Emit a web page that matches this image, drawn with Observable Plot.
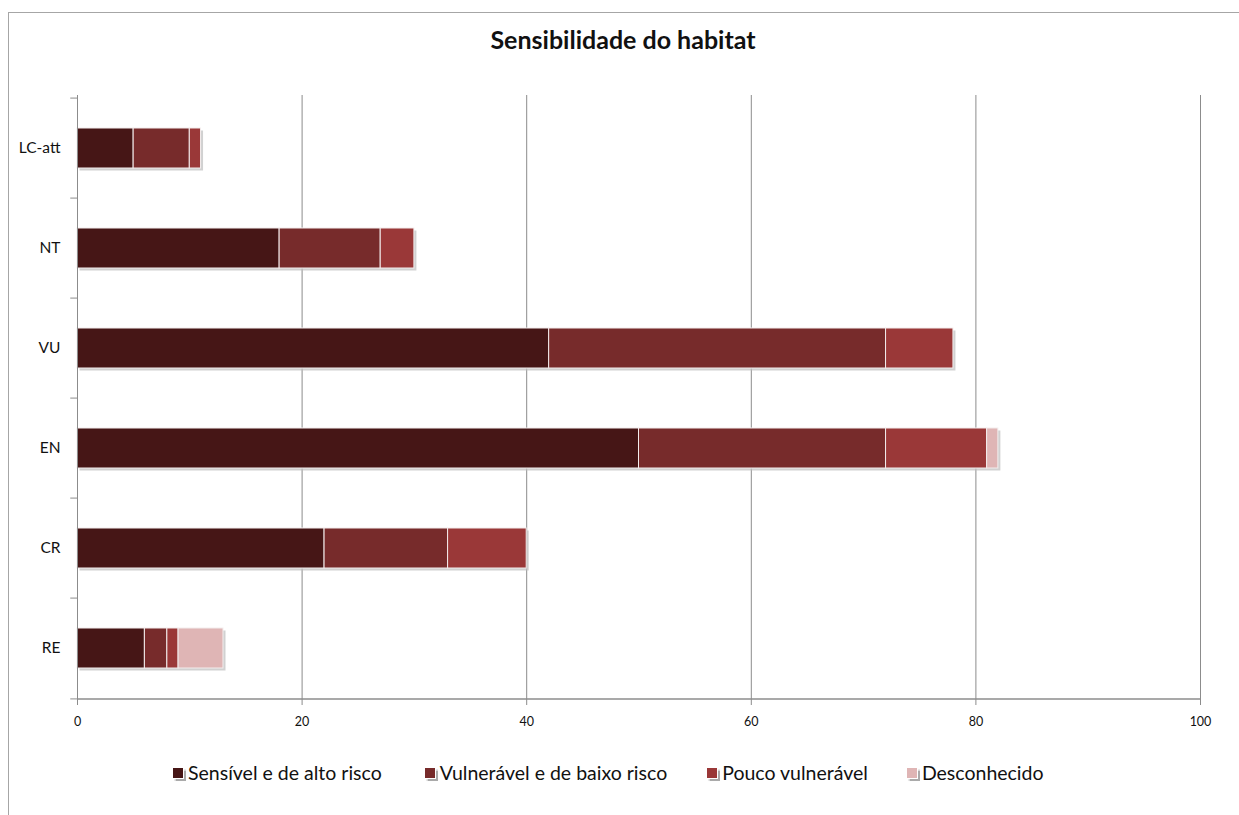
<!DOCTYPE html>
<html>
<head>
<meta charset="utf-8">
<script src="https://cdn.jsdelivr.net/npm/d3@7"></script>
<script src="https://cdn.jsdelivr.net/npm/@observablehq/plot@0.6"></script>
<style>
  html, body { margin: 0; padding: 0; background: #fff; }
  #wrap { position: relative; width: 1239px; height: 815px; overflow: hidden; font-family: Lato, "Open Sans", sans-serif; }
  #frame { position: absolute; left: 8px; top: 12px; width: 1240px; height: 810px; border-left: 1.5px solid #a6a6a6; border-top: 1.5px solid #a6a6a6; }
  #title { position: absolute; top: 24px; left: 0; width: 1246px; text-align: center; font-weight: bold; font-size: 25px; color: #111; }
  #chart { position: absolute; left: 0; top: 80px; }
  #chart svg { background: transparent !important; }
  #legend { position: absolute; top: 761px; left: 172px; display: flex; align-items: center; font-size: 19.5px; color: #111; }
  .item { display: flex; align-items: center; }
  .sw { width: 10px; height: 10px; margin-right: 4px; box-shadow: 1.5px 1.5px 1px #aaa; border: 1px solid #fff; }
</style>
</head>
<body>
<div id="wrap">
  <div id="frame"></div>
  <div id="title">Sensibilidade do habitat</div>
  <div id="chart"></div>
  <div id="legend"></div>
</div>
<script>
const categories = ["LC-att", "NT", "VU", "EN", "CR", "RE"];
const series = ["Sensível e de alto risco", "Vulnerável e de baixo risco", "Pouco vulnerável", "Desconhecido"];
const sensivel = [5, 18, 42, 50, 22, 6];
const vulneravel = [5, 9, 30, 22, 11, 2];
const pouco = [1, 3, 6, 9, 7, 1];
const desconhecido = [0, 0, 0, 1, 0, 4];
const colors = ["#461616", "#772B2B", "#9A3838", "#DFB5B5"];
const xTicks = [0, 20, 40, 60, 80, 100];

const valuesBySeries = [sensivel, vulneravel, pouco, desconhecido];
const table = [];
series.forEach((s, si) => categories.forEach((c, ci) => {
  table.push({category: c, series: s, value: valuesBySeries[si][ci]});
}));
const totals = categories.map((c, ci) => ({category: c, total: valuesBySeries.reduce((a, v) => a + v[ci], 0)}));

const W = 1239, H = 660, mt = 15, mb = 40;
const step = (H - mt - mb) / categories.length;

const chart = Plot.plot({
  width: W,
  height: H,
  marginLeft: 77,
  marginRight: 39,
  marginTop: mt,
  marginBottom: mb,
  style: {fontFamily: "Lato, 'Open Sans', sans-serif", fontSize: "12px", color: "#111", background: "transparent"},
  x: {domain: [0, 100], ticks: xTicks, label: null},
  y: {domain: categories, paddingInner: 0.6, paddingOuter: 0.3, label: null},
  color: {domain: series, range: colors},
  marks: [
    Plot.ruleX(xTicks.slice(1), {stroke: "#8c8c8c", strokeWidth: 1}),
    Plot.barX(totals, {y: "category", x1: 0, x2: "total", fill: "#bdbdbd", dx: 2.5, dy: 2.5, fillOpacity: 0.7}),
    Plot.barX(table, Plot.stackX({y: "category", x: "value", fill: "series", order: series, stroke: "#f3eded", strokeWidth: 1})),
    Plot.ruleY(categories, {y: d => d, x1: -0.6, x2: 0, dy: -step / 2, stroke: "#8c8c8c"}),
    Plot.ruleY(categories.slice(-1), {y: d => d, x1: -0.6, x2: 0, dy: step / 2, stroke: "#8c8c8c"}),
    Plot.ruleX([0], {stroke: "#8c8c8c", strokeWidth: 1}),
    Plot.ruleY([0], {y: () => categories[categories.length - 1], x1: 0, x2: 100, dy: step / 2, stroke: "#8c8c8c", strokeWidth: 1.5}),
    Plot.axisX({ticks: xTicks, tickSize: 5, tickPadding: 12, stroke: "#8c8c8c", fontSize: 12.5, fill: "#111", label: null}),
    Plot.axisY({tickSize: 0, tickPadding: 17, fontSize: 15.5, fill: "#111", label: null})
  ]
});
document.getElementById("chart").appendChild(chart);

const legend = document.getElementById("legend");
const gaps = [0, 42, 39, 38];
series.forEach((s, i) => {
  const it = document.createElement("div");
  it.className = "item";
  it.style.marginLeft = gaps[i] + "px";
  const sw = document.createElement("span");
  sw.className = "sw";
  sw.style.background = colors[i];
  const t = document.createElement("span");
  t.textContent = s;
  it.appendChild(sw);
  it.appendChild(t);
  legend.appendChild(it);
});
</script>
</body>
</html>
